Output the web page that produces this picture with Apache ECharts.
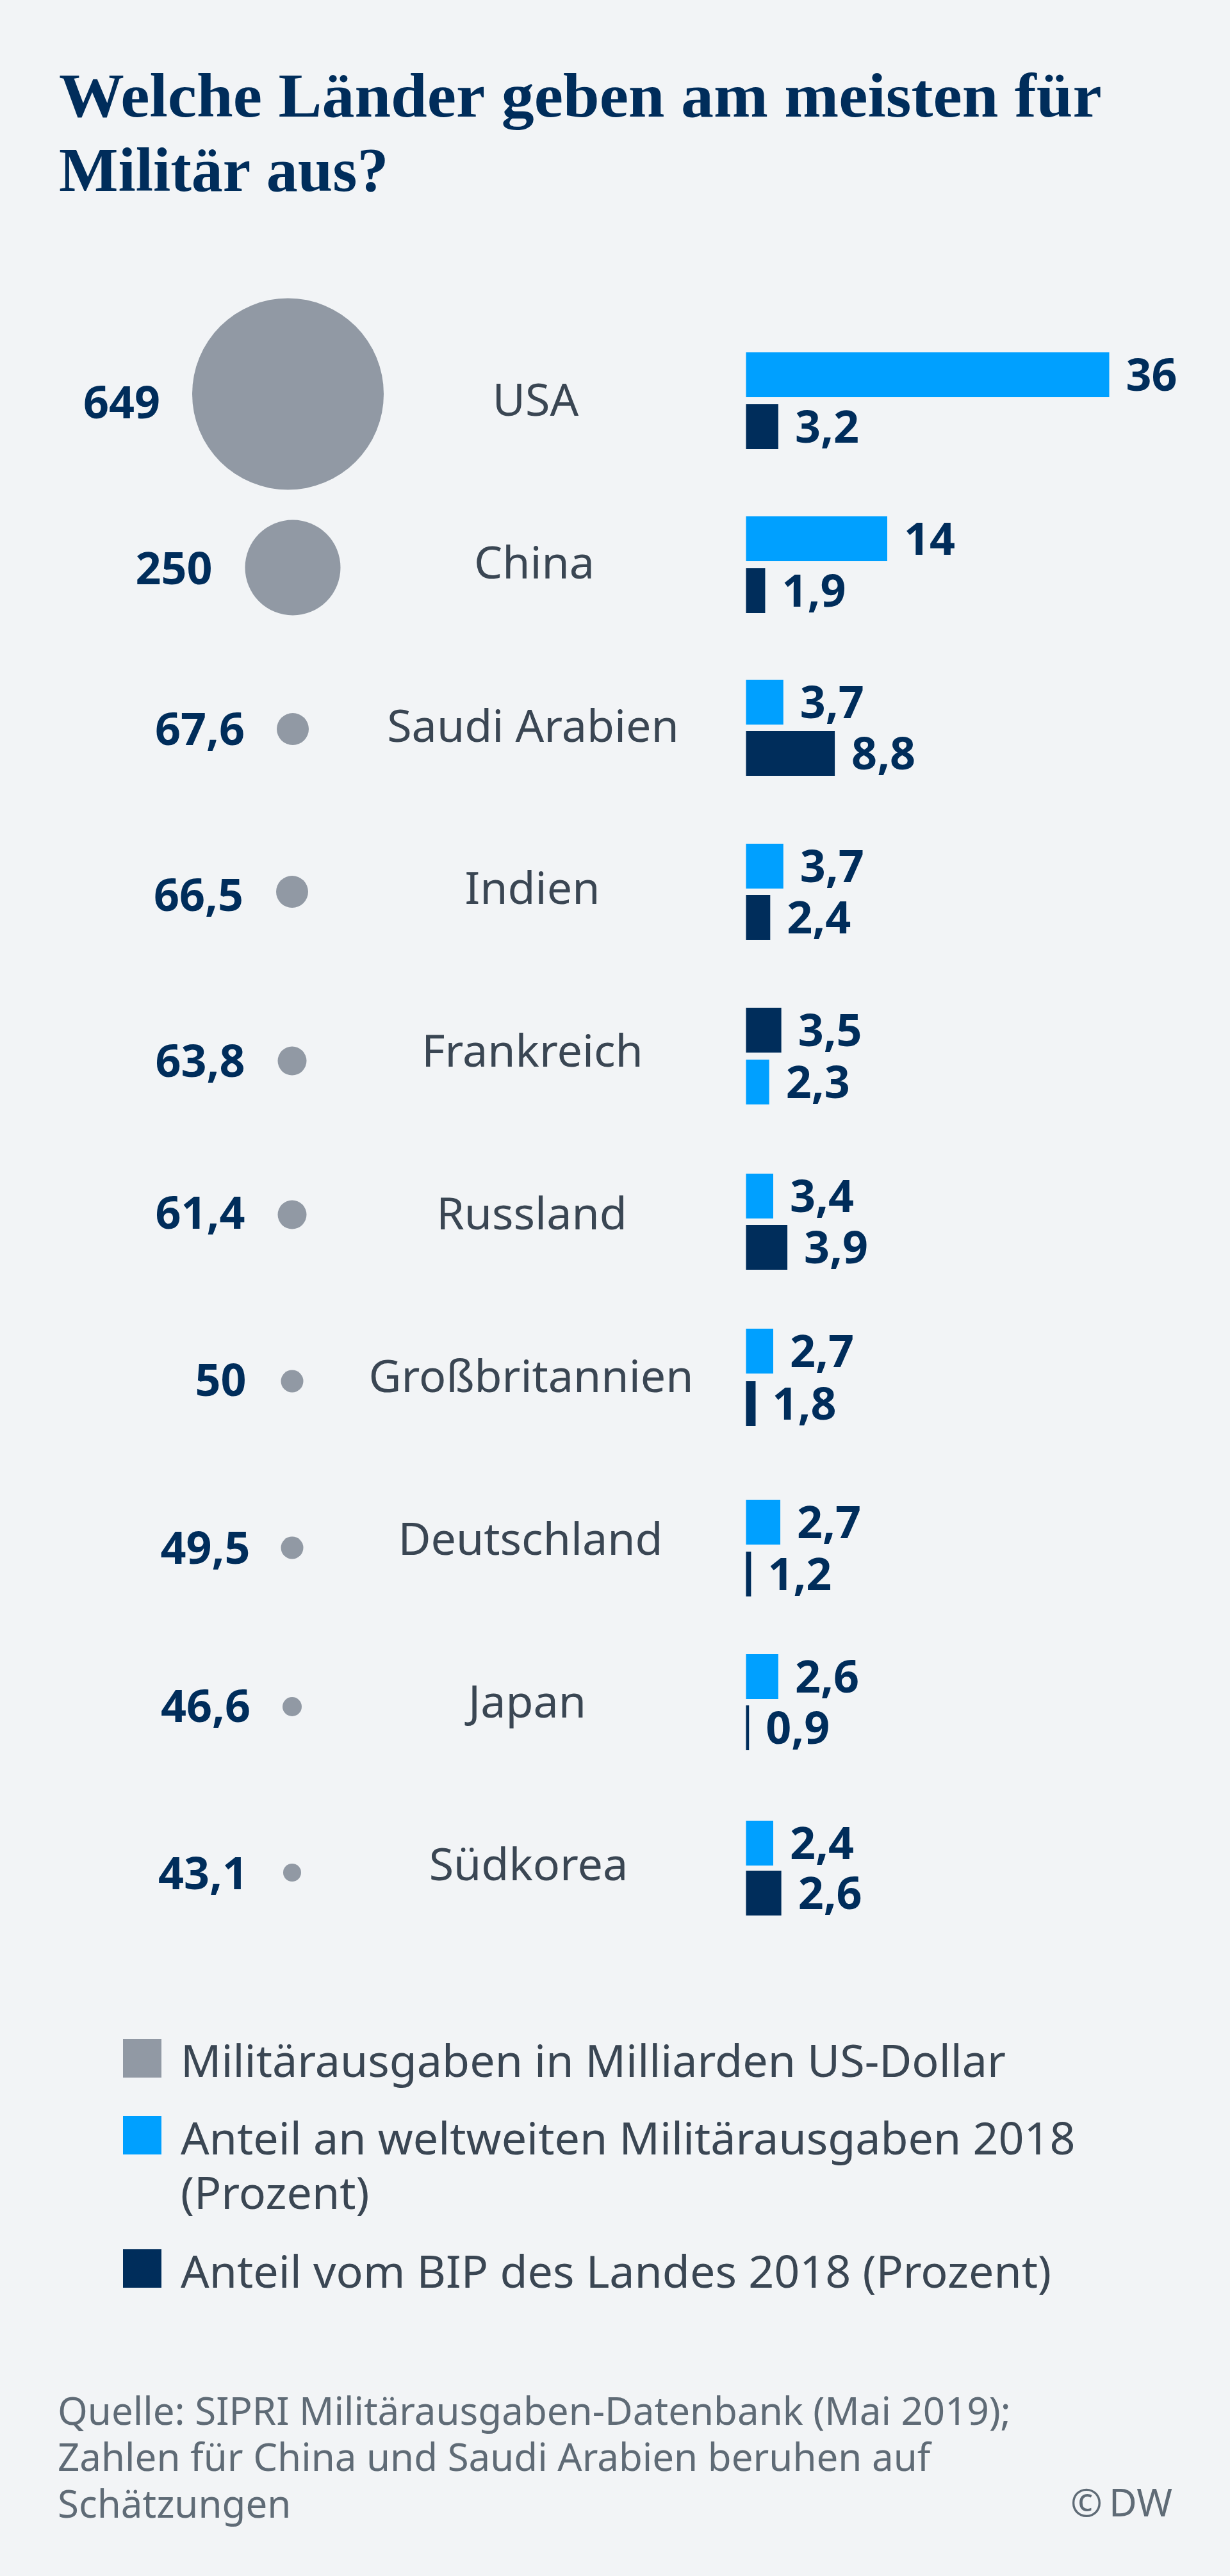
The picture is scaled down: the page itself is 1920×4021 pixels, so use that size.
<!DOCTYPE html>
<html>
<head>
<meta charset="utf-8">
<title>Welche Länder geben am meisten für Militär aus?</title>
<script src="https://cdn.jsdelivr.net/npm/echarts@6/dist/echarts.min.js"></script>
<style>
html, body { margin: 0; padding: 0; background: #f2f4f6; }
#main { width: 1920px; height: 4021px; }
</style>
</head>
<body>
<div id="main"></div>
<script>
// data
var countries = ['USA', 'China', 'Saudi Arabien', 'Indien', 'Frankreich', 'Russland', 'Großbritannien', 'Deutschland', 'Japan', 'Südkorea'];
var spending = [649, 250, 67.6, 66.5, 63.8, 61.4, 50, 49.5, 46.6, 43.1];
// printed numbers
var worldShareLabels = [36, 14, 3.7, 3.7, 2.3, 3.4, 2.7, 2.7, 2.6, 2.4];
var gdpShareLabels = [3.2, 1.9, 8.8, 2.4, 3.5, 3.9, 1.8, 1.2, 0.9, 2.6];
// bar lengths as drawn, the original does not always follow its printed numbers
var worldShareBars = [36, 14, 3.7, 3.7, 2.3, 2.7, 2.7, 3.4, 3.2, 2.7];
var gdpShareBars = [3.2, 1.9, 8.8, 2.4, 3.5, 4.1, 0.95, 0.5, 0.3, 3.5];
// circle diameters as drawn
var circleSizes = [299, 149, 50, 50, 45, 45, 35, 35, 30, 28];

var legendNames = ['Militärausgaben in Milliarden US-Dollar', 'Anteil an weltweiten Militärausgaben 2018', 'Anteil vom BIP des Landes 2018 (Prozent)'];

// layout of the rows, they are not evenly spaced in the original
var barTop = [550, 806, 1061, 1317, 1573, 1832, 2074, 2341, 2582, 2842];
var barStep = [81, 81, 80, 80, 81, 80, 82, 81, 80, 78];
var gdpFirst = [false, false, false, false, true, false, false, false, false, false];
var circleX = [449.5, 457, 457, 456, 456, 456, 456, 456, 456, 456];
var circleY = [615, 886, 1138, 1392, 1656, 1896, 2156, 2416, 2664, 2923];
var labelGap = [50, 51, 50, 51, 51, 51, 54, 48, 50, 55];
var labelShift = [13, 1, 0, 5, 0, -3, -2, 0, -1, 1];
var nameX = [836, 834, 832, 831, 831, 830, 829, 828, 823, 825];
var nameY = [624, 878, 1133, 1386, 1640, 1894, 2148, 2402, 2656, 2910];

var DARK = '#002d5b';
var BLUE = '#00a0ff';
var GREY = '#9199a4';
var TEXT = '#3a4653';
var SOURCE = '#5f6b76';
var FONT = '"Noto Sans"';
var TEXT_DROP = 5;

function comma(v) {
    return String(v).replace('.', ',');
}

function barLabel(text) {
    return {
        show: true,
        position: 'right',
        distance: 26,
        offset: [0, TEXT_DROP],
        formatter: comma(text),
        color: DARK,
        fontFamily: FONT,
        fontWeight: 'bold',
        fontSize: 70
    };
}

var grids = [];
var xAxes = [];
var yAxes = [];
var series = [];

countries.forEach(function (name, i) {
    // bars of this row
    var gridBars = grids.length;
    grids.push({
        left: 1164.5,
        width: 630,
        top: barTop[i] - (barStep[i] - 70) / 2,
        height: barStep[i] * 2
    });
    xAxes.push({ gridIndex: gridBars, type: 'value', min: 0, max: 40, show: false });
    yAxes.push({ gridIndex: gridBars, type: 'category', inverse: true, data: ['oben', 'unten'], show: false });

    var worldRow = gdpFirst[i] ? 1 : 0;
    series.push({
        name: 'Anteil an weltweiten Militärausgaben 2018 (Prozent)',
        type: 'bar',
        xAxisIndex: gridBars,
        yAxisIndex: gridBars,
        barWidth: 70,
        barGap: '-100%',
        itemStyle: { color: BLUE },
        label: barLabel(worldShareLabels[i]),
        data: [[worldShareBars[i], worldRow]]
    });
    series.push({
        name: 'Anteil vom BIP des Landes 2018 (Prozent)',
        type: 'bar',
        xAxisIndex: gridBars,
        yAxisIndex: gridBars,
        barWidth: 70,
        barGap: '-100%',
        itemStyle: { color: DARK },
        label: barLabel(gdpShareLabels[i]),
        data: [[gdpShareBars[i], 1 - worldRow]]
    });

    // circle of this row
    var gridCircle = grids.length;
    grids.push({ left: circleX[i] - 50, width: 100, top: circleY[i] - 50, height: 100 });
    xAxes.push({ gridIndex: gridCircle, type: 'value', min: -1, max: 1, show: false });
    yAxes.push({ gridIndex: gridCircle, type: 'value', min: -1, max: 1, show: false });
    series.push({
        name: legendNames[0],
        type: 'scatter',
        xAxisIndex: gridCircle,
        yAxisIndex: gridCircle,
        clip: false,
        symbol: 'circle',
        symbolSize: circleSizes[i],
        itemStyle: { color: GREY, opacity: 1 },
        label: {
            show: true,
            position: 'left',
            distance: labelGap[i],
            offset: [0, labelShift[i] + TEXT_DROP],
            formatter: comma(spending[i]),
            color: DARK,
            fontFamily: FONT,
            fontWeight: 'bold',
            fontSize: 70
        },
        data: [[0, 0, spending[i]]]
    });
});

function textEl(text, x, y, font, fill, align, scaleX) {
    return {
        type: 'text',
        x: x,
        y: y + TEXT_DROP,
        scaleX: scaleX || 1,
        silent: true,
        style: {
            text: text,
            x: 0,
            y: 0,
            font: font,
            fill: fill,
            textAlign: align || 'left',
            textVerticalAlign: 'middle'
        }
    };
}

function square(y, color) {
    return { type: 'rect', silent: true, shape: { x: 192, y: y, width: 60, height: 60 }, style: { fill: color } };
}

var normal = '70px "Noto Sans"';
var small = '60px "Noto Sans"';
var titleFont = 'bold 98px "Liberation Serif"';

var graphics = [
    textEl('Welche Länder geben am meisten für', 92, 152, titleFont, DARK, 'left', 1.04),
    textEl('Militär aus?', 92, 268, titleFont, DARK, 'left', 1),
    square(3183, GREY),
    square(3303, BLUE),
    square(3511, DARK),
    textEl(legendNames[0], 282, 3217, normal, TEXT),
    textEl(legendNames[1], 282, 3338, normal, TEXT),
    textEl('(Prozent)', 282, 3423, normal, TEXT),
    textEl(legendNames[2], 282, 3546, normal, TEXT),
    textEl('Quelle: SIPRI Militärausgaben-Datenbank (Mai 2019);', 90, 3763, small, SOURCE),
    textEl('Zahlen für China und Saudi Arabien beruhen auf', 90, 3835, small, SOURCE),
    textEl('Schätzungen', 90, 3908, small, SOURCE),
    textEl('©\u2009DW', 1830, 3906, small, SOURCE, 'right')
];

countries.forEach(function (name, i) {
    graphics.push(textEl(name, nameX[i], nameY[i], normal, TEXT, 'center'));
});

var myChart = echarts.init(document.getElementById('main'), null, { renderer: 'canvas' });
myChart.setOption({
    backgroundColor: '#f2f4f6',
    animation: false,
    tooltip: { show: false },
    grid: grids,
    xAxis: xAxes,
    yAxis: yAxes,
    series: series,
    graphic: graphics
});
</script>
</body>
</html>
